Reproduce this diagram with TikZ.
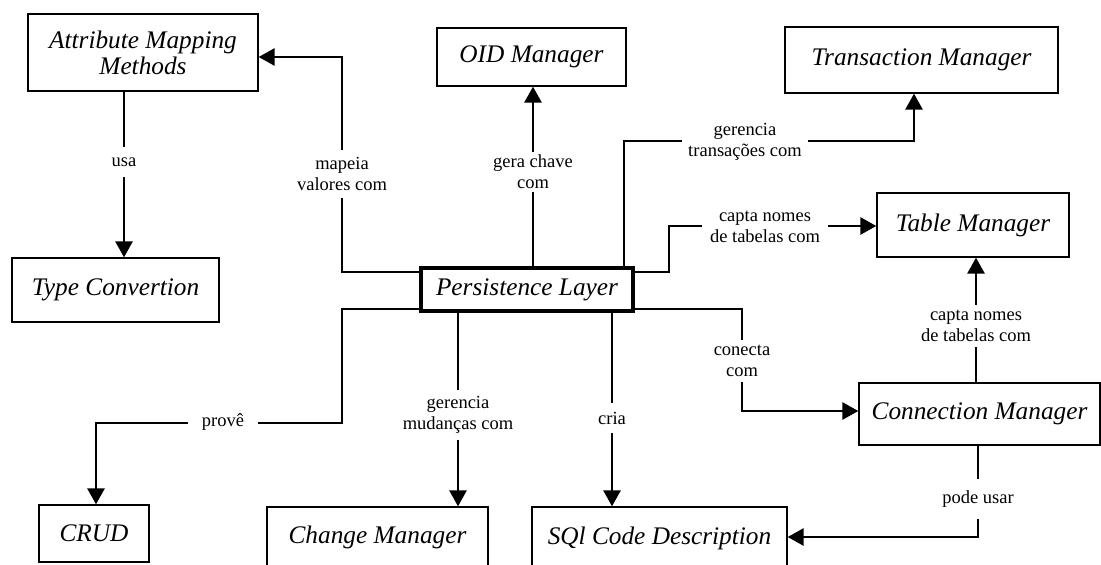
\documentclass[tikz,border=0pt]{standalone}
\usepackage{fontspec}
\setmainfont{Liberation Serif}
\usetikzlibrary{arrows.meta}
\begin{document}
\begin{tikzpicture}[x=1pt,y=-1pt,
  box/.style={draw, line width=1.3pt, inner sep=0pt, align=center,
    font=\fontsize{25.3}{26}\selectfont\itshape},
  mainbox/.style={box, line width=4pt},
  conn/.style={line width=2.8pt, -{Triangle[width=17pt,length=16pt]}},
  lbl/.style={fill=white, inner xsep=6pt, inner ysep=7pt, align=center,
    font=\fontsize{18.5}{21}\selectfont}]
\clip (0,0) rectangle (1101,565);
\fill[white] (0,0) rectangle (1101,565);

% nodes
\node[box, minimum width=230pt, minimum height=77pt] (amm) at (143,52.5) {Attribute Mapping\\Methods};
\node[box, minimum width=207pt, minimum height=64pt] (tc) at (115.5,290) {Type Convertion};
\node[box, minimum width=189pt, minimum height=58pt] (oid) at (531.5,57) {OID Manager};
\node[box, minimum width=273pt, minimum height=66pt] (tm) at (921.5,60) {Transaction Manager};
\node[box, minimum width=192pt, minimum height=64pt] (tab) at (973,225) {Table Manager};
\node[mainbox, minimum width=212pt, minimum height=43pt] (pl) at (527,289.5) {Persistence Layer};
\node[box, minimum width=241pt, minimum height=62pt] (cm) at (979.5,414) {Connection Manager};
\node[box, minimum width=110pt, minimum height=57pt] (crud) at (94,533.5) {CRUD};
\node[box, minimum width=221pt, minimum height=60pt] (chg) at (377.5,537) {Change Manager};
\node[box, minimum width=255pt, minimum height=62pt] (sql) at (659.5,538) {SQl Code Description};

% connectors
\draw[conn] (pl.west |- 0,272) -| (342,57) -- (amm.east |- 0,57);
\node[lbl] (l1) at (342,174) {mapeia\\valores com};

\draw[conn] (124,0 |- amm.south) -- (124,0 |- tc.north);
\node[lbl, inner ysep=11pt] (l2) at (124,162) {usa};

\draw[conn] (533,0 |- pl.north) -- (533,0 |- oid.south);
\node[lbl, inner ysep=3pt] (l3) at (533,172) {gera chave\\com};

\draw[conn] (624,0 |- pl.north) |- (914,141) -- (914,0 |- tm.south);
\node[lbl] (l4) at (745,142) {gerencia\\transações com};

\draw[conn] (pl.east |- 0,272) -| (669,226) -- (tab.west |- 0,226);
\node[lbl, inner xsep=8pt] (l5) at (765,227) {capta nomes\\de tabelas com};

\draw[conn] (976,0 |- cm.north) -- (976,0 |- tab.south);
\node[lbl, inner ysep=5pt] (l6) at (976,326) {capta nomes\\de tabelas com};

\draw[conn] (pl.east |- 0,309) -| (742,411) -- (cm.west |- 0,411);
\node[lbl, inner ysep=5pt] (l7) at (742,361) {conecta\\com};

\draw[conn] (612,0 |- pl.south) -- (612,0 |- sql.north);
\node[lbl, inner ysep=9pt] (l8) at (612,418) {cria};

\draw[conn] (978,0 |- cm.south) |- (sql.east |- 0,537);
\node[lbl, inner ysep=12pt] (l9) at (978,499) {pode usar};

\draw[conn] (458,0 |- pl.south) -- (458,0 |- chg.north);
\node[lbl, inner ysep=6pt] (l10) at (458,415) {gerencia\\mudanças com};

\draw[conn] (pl.west |- 0,309) -| (342,423) -| (96,0 |- crud.north);
\node[lbl, inner xsep=14pt] (l11) at (223,422) {provê};
\end{tikzpicture}
\end{document}
